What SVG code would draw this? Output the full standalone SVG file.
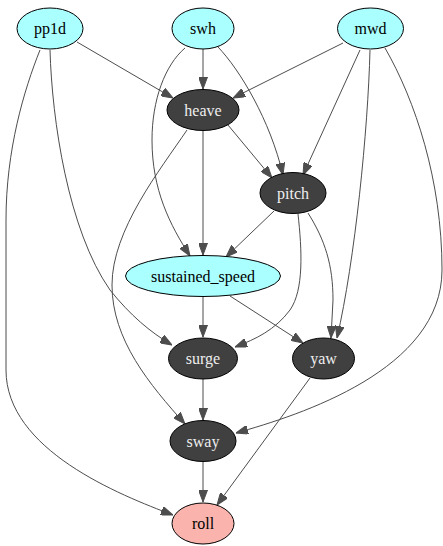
<svg xmlns="http://www.w3.org/2000/svg" width="443" height="546" viewBox="0 0 443 546">
<style>
.n ellipse{stroke:#000;stroke-width:1}
.in ellipse{fill:#aaffff}
.mid ellipse{fill:#404040}
.out ellipse{fill:#fab4ad}
.n text{font-family:"Times New Roman","Liberation Serif",Times,"DejaVu Serif",serif;font-size:16px;text-anchor:middle}
.in text,.out text{fill:#000}
.mid text{fill:#eeeeee}
#edges path{fill:none;stroke:#4d4d4d;stroke-width:1;marker-end:url(#ah)}
</style>
<defs>
<marker id="ah" viewBox="0 0 12 9" refX="12" refY="4.5" markerWidth="12" markerHeight="9" markerUnits="userSpaceOnUse" orient="auto">
<path d="M0,0 L12,4.5 L0,9 z" fill="#4d4d4d" stroke="#4d4d4d" stroke-width="1"/>
</marker>
</defs>
<rect width="443" height="546" fill="#fff"/>
<g id="edges">
<path d="M77,42 L173,98"/>
<path d="M50,50 C52,120 68,230 110,290 C130,315 150,332 172,345"/>
<path d="M40,50 C24,90 6,150 6,220 L6,370 C6,450 120,495 173,515"/>
<path d="M203,49 L203,89"/>
<path d="M218,47 C240,70 270,120 283,175"/>
<path d="M185,48 C165,65 152,100 152,140 C152,190 170,225 190,256"/>
<path d="M343,43 L233,98"/>
<path d="M360,50 L303,175"/>
<path d="M370,50 C368,130 355,260 337,338"/>
<path d="M385,48 C415,100 442,180 442,270 C442,370 300,415 236,433"/>
<path d="M228,125 L272,178"/>
<path d="M203,131 L203,255"/>
<path d="M187,130 C160,170 112,230 112,285 C112,340 150,385 185,424"/>
<path d="M274,211 L226,257"/>
<path d="M298,214 C302,250 304,290 290,310 C275,330 256,339 235,347"/>
<path d="M308,213 C325,240 333,265 333,300 L331,338"/>
<path d="M203,297 L203,337"/>
<path d="M230,296 L303,343"/>
<path d="M203,379 L203,420"/>
<path d="M203,462 L203,502"/>
<path d="M310,378 L217,505"/>
</g>
<g id="pp1d" class="n in"><ellipse cx="50" cy="28.5" rx="33" ry="20.5"/><text x="50" y="34">pp1d</text></g>
<g id="swh" class="n in"><ellipse cx="203" cy="28.5" rx="31" ry="20.5"/><text x="203" y="34">swh</text></g>
<g id="mwd" class="n in"><ellipse cx="370.5" cy="28.5" rx="33" ry="20.5"/><text x="370.5" y="34">mwd</text></g>
<g id="heave" class="n mid"><ellipse cx="203" cy="110" rx="36" ry="20.5"/><text x="203" y="115.5">heave</text></g>
<g id="pitch" class="n mid"><ellipse cx="293" cy="193" rx="33" ry="20.5"/><text x="293" y="198.5">pitch</text></g>
<g id="sustained_speed" class="n in"><ellipse cx="203" cy="276" rx="77.5" ry="20.5"/><text x="203" y="281.5">sustained_speed</text></g>
<g id="surge" class="n mid"><ellipse cx="203" cy="358.5" rx="34.5" ry="20.5"/><text x="203" y="364">surge</text></g>
<g id="yaw" class="n mid"><ellipse cx="323.5" cy="358.5" rx="31" ry="20.5"/><text x="323.5" y="364">yaw</text></g>
<g id="sway" class="n mid"><ellipse cx="203" cy="441" rx="33" ry="20.5"/><text x="203" y="446.5">sway</text></g>
<g id="roll" class="n out"><ellipse cx="203" cy="523.5" rx="31" ry="20.5"/><text x="203" y="529">roll</text></g>
</svg>
